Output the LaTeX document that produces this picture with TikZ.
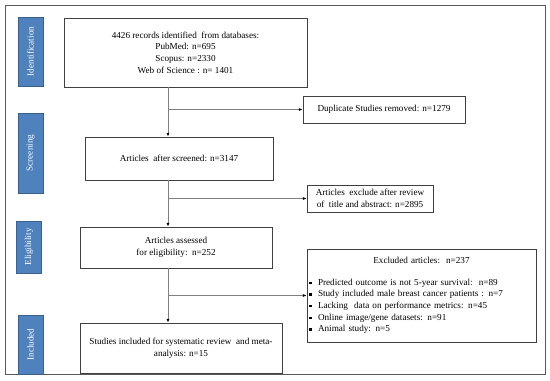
\documentclass[tikz,border=0pt]{standalone}
\usepackage{fontspec}
\setmainfont{Liberation Serif}
\usepackage{tikz}
\usetikzlibrary{arrows.meta}

\definecolor{stageblue}{RGB}{79,129,189}
\definecolor{stageedge}{RGB}{60,96,140}
\definecolor{boxedge}{RGB}{64,64,64}
\definecolor{linkgray}{RGB}{128,128,128}
\newcommand{\sqitem}{\raisebox{1.6pt}{\rule{2.8pt}{2.8pt}}\hspace{7.5pt}}

\begin{document}
\begin{tikzpicture}[x=1.2pt, y=-1.2pt,
  font=\fontsize{11}{14}\selectfont,
  stage/.style={draw=stageedge, fill=stageblue, text=white, rotate=90, inner sep=0pt, minimum height=30pt},
  n/.style={draw=boxedge, line width=0.9pt, align=center, inner sep=2pt},
  arr/.style={-{Latex[length=4.5pt, width=3.5pt, color=black]}, draw=linkgray, line width=0.8pt}
]
\useasboundingbox (0,0) rectangle (550,380);
\draw[draw=gray!70!black, line width=1pt] (5,5) rectangle (545,374);

% stages
\node[stage, minimum width=83pt] (sid) at (30.5,51.5) {Identification};
\node[stage, minimum width=96pt] (sscr) at (30.5,153) {Screening};
\node[stage, minimum width=62pt] (selig) at (29,247) {Eligibility};
\node[stage, minimum width=71pt] (sinc) at (30.5,344.5) {Included};

% main column
\node[n, minimum width=291.6pt, minimum height=82.8pt] (rec) at (185.5,52.5)
  {4426 records identified\ \ from databases:\\PubMed: n=695\\Scopus: n=2330\\Web of Science : n= 1401};
\node[n, minimum width=225.6pt, minimum height=51.6pt] (scr) at (179,158.5)
  {Articles\ \ after screened: n=3147};
\node[n, minimum width=230.4pt, minimum height=49.2pt] (elig) at (176,247.5)
  {Articles assessed\\for eligibility:\ \ n=252};
\node[n, minimum width=242.4pt, minimum height=60pt] (inc) at (181,348)
  {Studies included for systematic review\ \ and meta-\\analysis: n=15};

% excluded side
\node[n, minimum width=194.4pt, minimum height=32.4pt] (dup) at (384,109.5)
  {Duplicate Studies removed: n=1279};
\node[n, minimum width=151.2pt, minimum height=32.4pt] (rev) at (370,198.5)
  {Articles\ \ exclude after review\\of\ \ title and abstract: n=2895};
\node[n, minimum width=274.8pt, minimum height=111.6pt, text width=269pt, align=left, inner xsep=2.5pt] (exc) at (421.5,295.5)
  {\parindent=0pt{\centering Excluded articles:\ \ n=237\par}\vspace{12pt}
   \sqitem Predicted outcome is not 5-year survival:\ \ n=89\par
   \sqitem Study included male breast cancer patients : n=7\par
   \sqitem Lacking\ \ data on performance metrics: n=45\par
   \sqitem Online image/gene datasets: n=91\par
   \sqitem Animal study: n=5};

% links
\coordinate (trunk) at (168,0);
\draw[arr] (rec.south -| trunk) -- (scr.north -| trunk);
\draw[arr] (rec.south -| trunk) |- (dup.west);
\draw[arr] (scr.south -| trunk) -- (elig.north -| trunk);
\draw[arr] (scr.south -| trunk) |- (rev.west);
\draw[arr] (elig.south -| trunk) -- (inc.north -| trunk);
\draw[arr] (elig.south -| trunk) |- (exc.west);
\end{tikzpicture}
\end{document}
